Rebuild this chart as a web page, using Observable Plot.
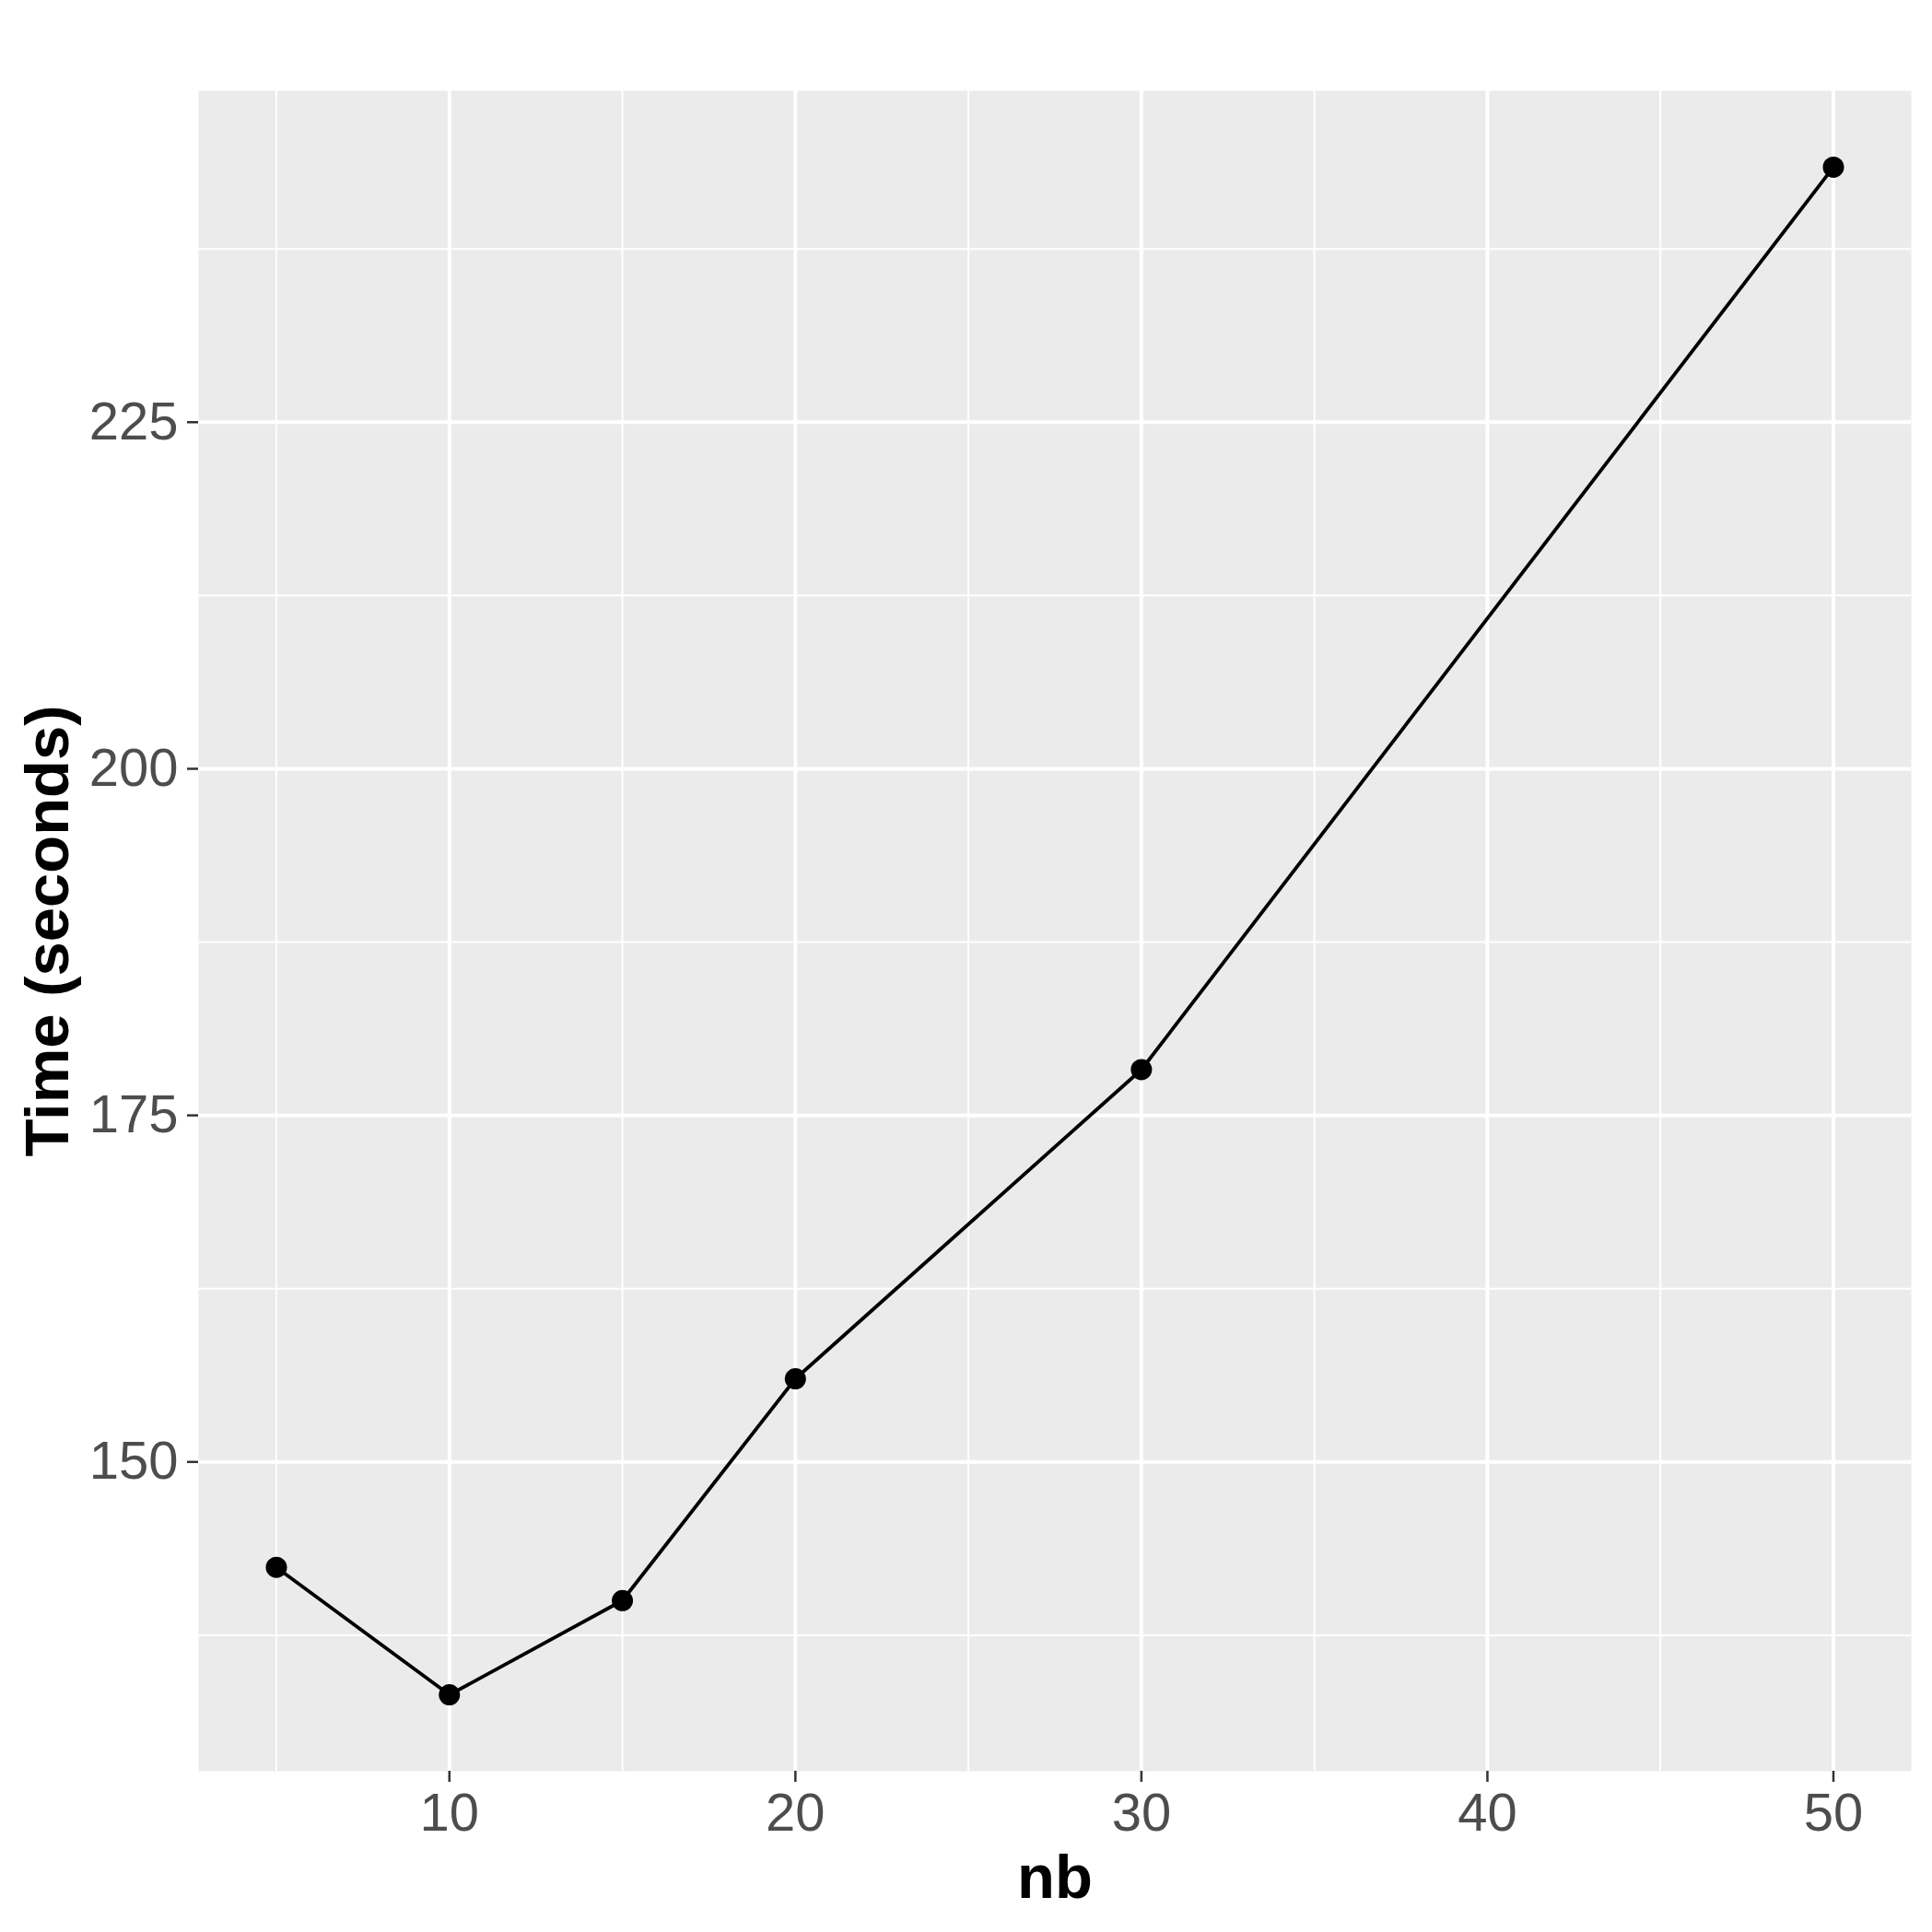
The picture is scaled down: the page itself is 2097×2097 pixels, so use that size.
<!DOCTYPE html>
<html>
<head>
<meta charset="utf-8">
<script src="https://cdn.jsdelivr.net/npm/d3@7"></script>
<script src="https://cdn.jsdelivr.net/npm/@observablehq/plot@0.6"></script>
<style>
  html, body { margin: 0; padding: 0; background: #ffffff; }
  #chart svg { display: block; }
</style>
</head>
<body>
<div id="chart"></div>
<script>
// Data
const nb = [5, 10, 15, 20, 30, 50];
const timeSeconds = [142.4, 133.2, 140.0, 156.0, 178.3, 243.4];

// Tick labels / grid breaks
const xTicks = [10, 20, 30, 40, 50];
const xMinor = [5, 15, 25, 35, 45];
const yTicks = [150, 175, 200, 225];
const yMinor = [137.5, 162.5, 187.5, 212.5, 237.5];

const xLabel = "nb";
const yLabel = "Time (seconds)";

const data = nb.map((x, i) => ({nb: x, time: timeSeconds[i]}));

// ggplot-style 5% expansion
const xExt = d3.extent(nb), yExt = d3.extent(timeSeconds);
const xPad = (xExt[1] - xExt[0]) * 0.05, yPad = (yExt[1] - yExt[0]) * 0.05;

const chart = Plot.plot({
  width: 2097,
  height: 2097,
  marginLeft: 215,
  marginRight: 23,
  marginTop: 98,
  marginBottom: 175,
  style: {background: "#ffffff", fontFamily: "'Liberation Sans', Arial, Helvetica, sans-serif"},
  x: {domain: [xExt[0] - xPad, xExt[1] + xPad]},
  y: {domain: [yExt[0] - yPad, yExt[1] + yPad]},
  marks: [
    Plot.frame({fill: "#EBEBEB", stroke: "none"}),
    Plot.ruleY(yMinor, {stroke: "#ffffff", strokeWidth: 2}),
    Plot.ruleX(xMinor, {stroke: "#ffffff", strokeWidth: 2}),
    Plot.ruleY(yTicks, {stroke: "#ffffff", strokeWidth: 4}),
    Plot.ruleX(xTicks, {stroke: "#ffffff", strokeWidth: 4}),
    Plot.axisX(xTicks, {
      label: null, tickSize: 12, tickPadding: 11, fontSize: 58,
      fill: "#4D4D4D", stroke: "#333333", strokeWidth: 2.5
    }),
    Plot.axisY(yTicks, {
      label: null, tickSize: 12, tickPadding: 10, fontSize: 58,
      fill: "#4D4D4D", stroke: "#333333", strokeWidth: 2.5
    }),
    Plot.line(data, {x: "nb", y: "time", stroke: "#000000", strokeWidth: 3.8}),
    Plot.dot(data, {x: "nb", y: "time", r: 11.5, fill: "#000000", stroke: "none"}),
    Plot.text([xLabel], {frameAnchor: "bottom", lineAnchor: "middle", textAnchor: "middle", dy: 116, text: d => d, fontSize: 67, fontWeight: "bold", fill: "#000000"}),
    Plot.text([yLabel], {frameAnchor: "left", lineAnchor: "middle", textAnchor: "middle", dx: -163, rotate: -90, text: d => d, fontSize: 67, fontWeight: "bold", fill: "#000000"})
  ]
});

document.getElementById("chart").appendChild(chart);
</script>
</body>
</html>
